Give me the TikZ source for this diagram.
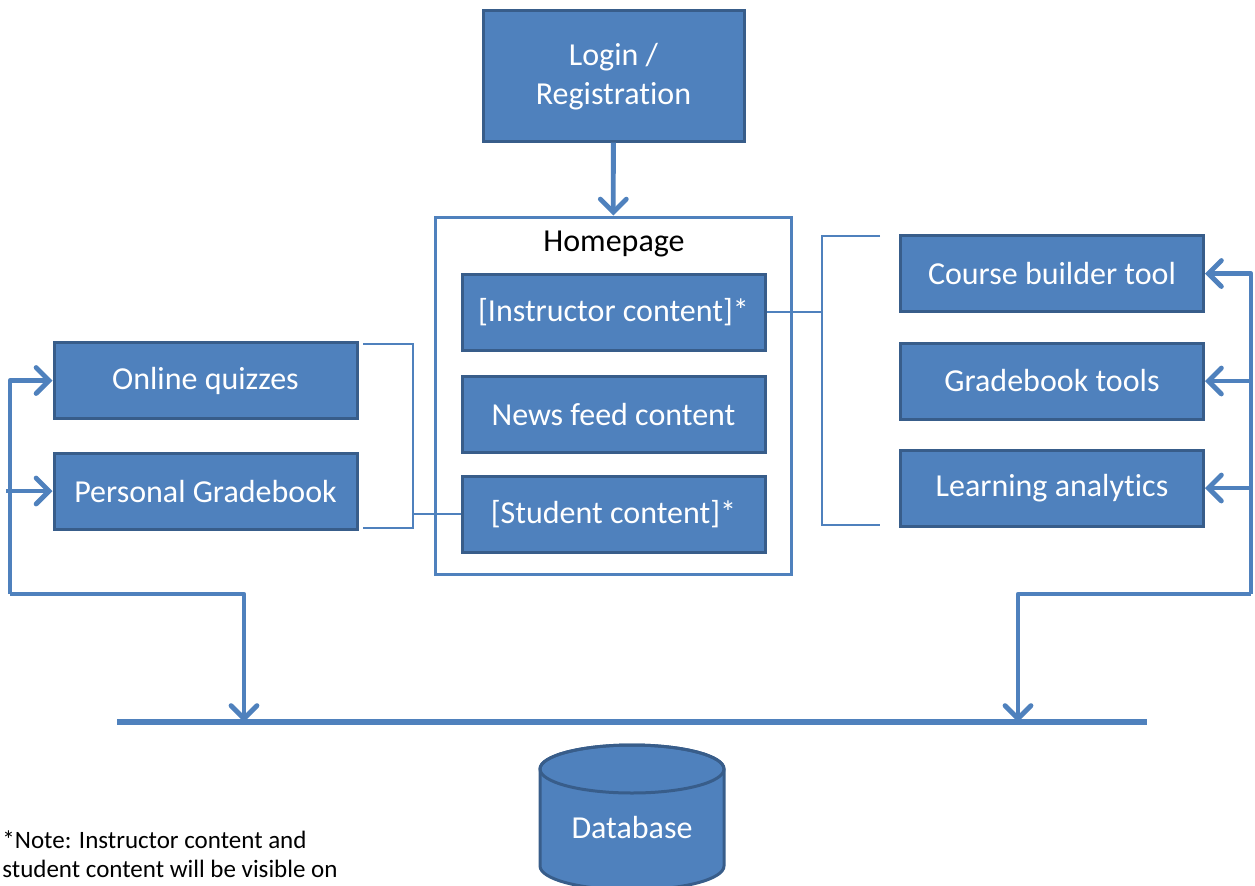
\documentclass[tikz,border=0pt]{standalone}
\usepackage{fontspec}
\setmainfont{Carlito}[Ligatures=NoCommon]
\usetikzlibrary{arrows.meta}
\definecolor{boxfill}{HTML}{4F81BD}
\definecolor{boxline}{HTML}{385D8A}
\begin{document}
\begin{tikzpicture}[x=0.5pt,y=-0.5pt,
  blk/.style={draw=boxline, fill=boxfill, line width=1.5pt, text=white, align=center,
    font=\fontsize{16}{19.5}\selectfont, inner sep=0pt},
  inbox/.style={blk, minimum width=151.5pt, minimum height=38pt},
  flow/.style={boxfill, line width=2.4pt, line join=round, -{Straight Barb[length=6.5pt,width=13pt,line cap=round]}},
  brkt/.style={boxfill, line width=1pt},
  bus/.style={boxfill, line width=3pt}]
\useasboundingbox (0,0) rectangle (1255,885);
\node[blk, minimum width=130.5pt, minimum height=65.5pt, text depth=2pt] (login) at (613.5,75.5) {Login /\\Registration};
\node[draw=boxfill, fill=white, line width=1.5pt, minimum width=178pt, minimum height=178.5pt] (home) at (613,395.5) {};
\node[font=\fontsize{16}{19.5}\selectfont] (homelbl) at (614,244) {Homepage};
\node[inbox] (instr) at (613.5,312) {[Instructor content]*};
\node[inbox] (news) at (613.5,414.5) {News feed content};
\node[inbox] (stud) at (613.5,514) {[Student content]*};
\node[inbox] (quiz) at (205.5,380.5) {Online quizzes};
\node[inbox] (pgb) at (205.5,491) {Personal Gradebook};
\node[inbox] (course) at (1052,273.5) {Course builder tool};
\node[inbox] (gbt) at (1052,381) {Gradebook tools};
\node[inbox] (la) at (1052,488) {Learning analytics};
\coordinate (lbt) at (363,344);
\coordinate (lbb) at (363,528);
\coordinate (lbx) at (413,510);
\coordinate (rbt) at (880,236);
\coordinate (rbb) at (880,525);
\coordinate (rbx) at (822,313);
\coordinate (lx) at (10,594);
\coordinate (rx) at (1251,594);
\coordinate (busl) at (117,722);
\coordinate (busr) at (1147,722);
\coordinate (ldrop) at (244,722);
\coordinate (rdrop) at (1018,722);
\draw[flow] (login) -- (home);
\draw[brkt] (lbt) -| (lbx) |- (lbb);
\draw[brkt] (stud.west) -- (stud.west -| lbx);
\draw[brkt] (rbt) -| (rbx) |- (rbb);
\draw[brkt] (instr.east) -- (instr.east -| rbx);
\draw[flow] (rx) |- (course.east);
\draw[flow] (rx |- gbt.east) -- (gbt.east);
\draw[flow] (rx |- la.east) -- (la.east);
\draw[flow] (rx) -| (rdrop);
\draw[flow] (lx) |- (quiz.west);
\draw[flow] ([xshift=-2]lx |- pgb.west) -- (pgb.west);
\draw[flow] (lx) -| (ldrop);
\draw[bus] (busl) -- (busr);
\filldraw[draw=boxline, fill=boxfill, line width=1.5pt] (540,769) -- (540,866)
  arc[start angle=180, end angle=360, x radius=46pt, y radius=12pt] -- (724,769)
  arc[start angle=0, end angle=180, x radius=46pt, y radius=12pt] -- cycle;
\draw[boxline, line width=1.5pt] (632,769) ellipse[x radius=46pt, y radius=12pt];
\node[text=white, font=\fontsize{16}{19.5}\selectfont] (db) at (632,827) {Database};
\node[anchor=base west, align=left, inner sep=0pt, font=\fontsize{12.5}{14.5}\selectfont] (note) at (2,877) {*Note: Instructor content and\\student content will be visible on};
\end{tikzpicture}
\end{document}
